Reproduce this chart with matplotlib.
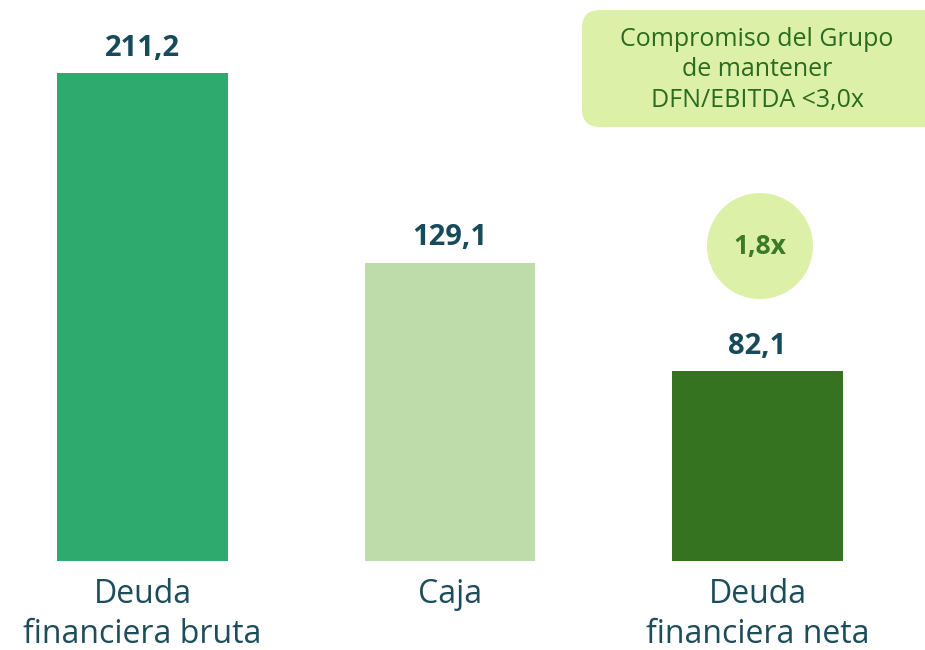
import matplotlib.pyplot as plt
from matplotlib.patches import FancyBboxPatch, Ellipse

# data
categories = ["Deuda\nfinanciera bruta", "Caja", "Deuda\nfinanciera neta"]
values = [211.2, 129.1, 82.1]
value_labels = ["211,2", "129,1", "82,1"]
bar_colors = ["#2eaa6e", "#bddcaa", "#367321"]
ratio_label = "1,8x"
note_text = "Compromiso del Grupo\nde mantener\nDFN/EBITDA <3,0x"

plt.rcParams['font.family'] = ['Open Sans', 'DejaVu Sans']

fig = plt.figure(figsize=(9.25, 6.5), dpi=100)
ax = fig.add_axes([0, 89 / 650, 1, 561 / 650])

x = list(range(len(values)))
ax.bar(x, values, width=0.556, color=bar_colors)

for xi, v, lab in zip(x, values, value_labels):
    ax.annotate(lab, (xi, v), xytext=(0, 18), textcoords="offset points",
                ha="center", va="center", fontsize=21, fontweight="bold",
                color="#174a5a")

ax.set_xlim(-0.4634, 2.5447)
ax.set_ylim(0, 561 / 2.3106)
ax.axis("off")

# category labels below the bars
for xi, cat in zip(x, categories):
    ax.annotate(cat, (xi, 0), xytext=(0, -12), textcoords="offset points",
                ha="center", va="top", fontsize=23, color="#1d4d5b",
                linespacing=1.3)

# ratio bubble above the net debt bar
ax.add_patch(Ellipse((2.008, 136.3), 106 / 307.5, 106 / 2.3106,
                     color="#dcf0a8", lw=0))
ax.text(2.008, 136.3, ratio_label, ha="center", va="center", fontsize=19,
        fontweight="bold", color="#3a7a28")

# note box top right
box = FancyBboxPatch((5.82, 5.23), 3.7, 1.17,
                     boxstyle="round,pad=0,rounding_size=0.18",
                     transform=fig.dpi_scale_trans, color="#ddf0a8", lw=0)
fig.patches.append(box)
fig.text(7.57 / 9.25, (650 - 70) / 650, note_text, ha="center", va="center",
         fontsize=18, color="#2a6b1f", linespacing=1.28)

fig.savefig("out.png", dpi=100)
